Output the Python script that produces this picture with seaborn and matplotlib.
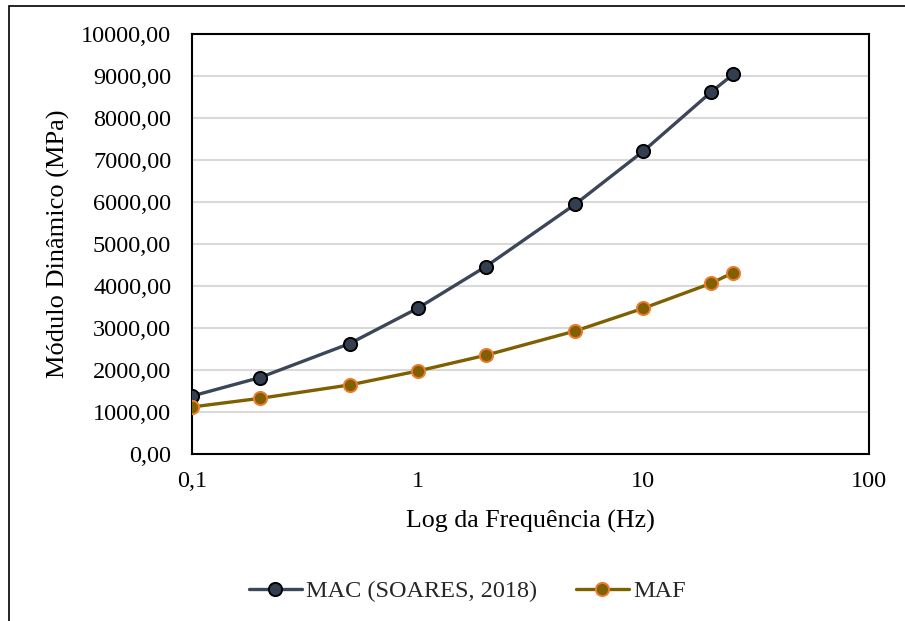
import pandas as pd
import matplotlib.pyplot as plt
import matplotlib.ticker as mticker
from matplotlib.patches import Rectangle
import seaborn as sns

# data
freq = [0.1, 0.2, 0.5, 1, 2, 5, 10, 20, 25]
mac = [1380, 1820, 2630, 3470, 4460, 5950, 7210, 8620, 9040]
maf = [1120, 1325, 1645, 1975, 2350, 2930, 3470, 4065, 4320]
labels = ["MAC (SOARES, 2018)", "MAF"]

sns.set_theme(style="white")
plt.rcParams['font.family'] = ['Liberation Serif', 'DejaVu Serif']

df_mac = pd.DataFrame({"freq": freq, "mod": mac})
df_maf = pd.DataFrame({"freq": freq, "mod": maf})

fig = plt.figure(figsize=(9.05, 6.21), dpi=100)
ax = fig.add_axes([192 / 905, 1 - 454 / 621, (869 - 192) / 905, (454 - 34) / 621])

sns.lineplot(data=df_mac, x="freq", y="mod", ax=ax, color="#3B4658", linewidth=2.4,
             marker="o", markersize=9.5, markerfacecolor="#333F50",
             markeredgecolor="black", markeredgewidth=1.4, label=labels[0], zorder=3)
sns.lineplot(data=df_maf, x="freq", y="mod", ax=ax, color="#7F6000", linewidth=2.4,
             marker="o", markersize=9.5, markerfacecolor="#806000",
             markeredgecolor="#ED7D31", markeredgewidth=1.4, label=labels[1], zorder=3)

ax.set_xscale("log")
ax.set_xlim(0.1, 100)
ax.set_ylim(0, 10000)
ax.set_yticks(range(0, 10001, 1000))
ax.set_xticks([0.1, 1, 10, 100])
ax.xaxis.set_minor_locator(mticker.NullLocator())
ax.yaxis.set_major_formatter(mticker.FuncFormatter(lambda v, p: f"{v:.2f}".replace(".", ",")))
ax.xaxis.set_major_formatter(mticker.FuncFormatter(lambda v, p: f"{v:g}".replace(".", ",")))

ax.grid(axis="y", color="#D9D9D9", linewidth=1.5)
ax.grid(axis="x", visible=False)
ax.set_axisbelow(True)
for s in ax.spines.values():
    s.set_color("black")
    s.set_linewidth(1.5)

ax.tick_params(axis="both", length=0, labelsize=17.5, colors="black")
ax.tick_params(axis="y", pad=15)
ax.tick_params(axis="x", pad=12)
ax.set_xlabel("Log da Frequência (Hz)", fontsize=18.7, color="black", labelpad=13)
ax.set_ylabel("Módulo Dinâmico (MPa)", fontsize=19, color="black", labelpad=8)

ax.get_legend().remove()
handles, lbls = ax.get_legend_handles_labels()
fig.legend(handles, lbls, loc="center", bbox_to_anchor=(0.516, 1 - 591 / 621), ncol=2,
           frameon=False, fontsize=17.5, handlelength=2.2, handletextpad=0.15,
           columnspacing=1.6)

# outer chart border (cropped at right/bottom)
fig.patches.append(Rectangle((9 / 905, -0.1), 1.2, 1.1 - 6 / 621, transform=fig.transFigure,
                             fill=False, edgecolor="black", linewidth=1.2))

fig.savefig("out.png", dpi=100)
